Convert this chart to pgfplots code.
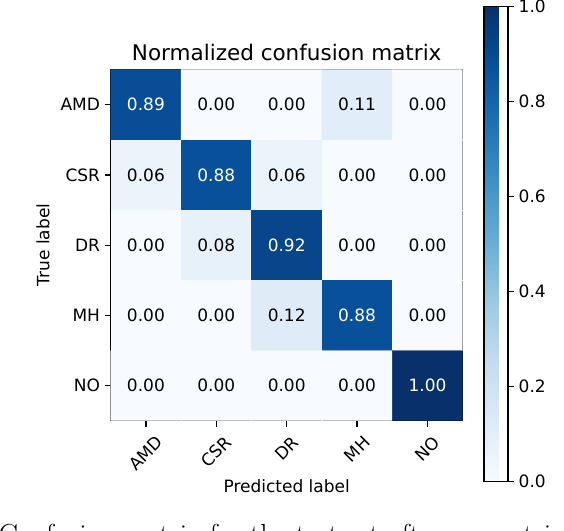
\documentclass[border=0pt]{standalone}
\usepackage{pgfplots}
\usepackage{pgfplotstable}
\pgfplotsset{compat=1.18}
\usepackage{fontspec}
\newfontfamily\dv{DejaVu Sans}

\pgfplotstableread{
x y z
0 4 0.89
1 4 0.00
2 4 0.00
3 4 0.11
4 4 0.00
0 3 0.06
1 3 0.88
2 3 0.06
3 3 0.00
4 3 0.00
0 2 0.00
1 2 0.08
2 2 0.92
3 2 0.00
4 2 0.00
0 1 0.00
1 1 0.00
2 1 0.12
3 1 0.88
4 1 0.00
0 0 0.00
1 0 0.00
2 0 0.00
3 0 0.00
4 0 1.00
}\cmdata

\pgfplotstableread{
x y label
0 4 0.89
1 3 0.88
2 2 0.92
3 1 0.88
4 0 1.00
}\whitelabels

\pgfplotstableread{
x y label
1 4 0.00
2 4 0.00
3 4 0.11
4 4 0.00
0 3 0.06
2 3 0.06
3 3 0.00
4 3 0.00
0 2 0.00
1 2 0.08
3 2 0.00
4 2 0.00
0 1 0.00
1 1 0.00
2 1 0.12
4 1 0.00
0 0 0.00
1 0 0.00
2 0 0.00
3 0 0.00
}\blacklabels

\newcommand{\tf}{\dv\fontsize{17}{20}\selectfont}

\begin{document}
\begin{tikzpicture}
\begin{axis}[
  at={(110.7pt,109.3pt)}, anchor=south west,
  scale only axis, width=352pt, height=351pt,
  xmin=-0.5, xmax=4.5, ymin=-0.5, ymax=4.5,
  xtick={0,1,2,3,4}, ytick={0,1,2,3,4},
  xticklabels={\rotatebox{45}{AMD},\rotatebox{45}{CSR},\rotatebox{45}{DR},\rotatebox{45}{MH},\rotatebox{45}{NO}},
  yticklabels={NO,MH,DR,CSR,AMD},
  tick align=outside, xtick pos=left, ytick pos=left,
  major tick length=6pt,
  tick style={black, line width=1.3pt},
  axis line style={black, line width=1.3pt},
  ticklabel style={font=\tf, inner sep=0pt},
  xticklabel style={anchor=north, yshift=-8pt},
  yticklabel style={anchor=east, xshift=-4.5pt},
  colormap={blues}{rgb255=(247,251,255) rgb255=(222,235,247) rgb255=(198,219,239) rgb255=(158,202,225) rgb255=(107,174,214) rgb255=(66,146,198) rgb255=(33,113,181) rgb255=(8,81,156) rgb255=(8,48,107)},
  point meta min=0, point meta max=1,
  colorbar,
  colorbar style={
    at={(parent axis.north east)}, anchor=north west,
    xshift=12.8pt, yshift=63pt,
    scale only axis, width=24pt, height=475pt,
    ytick={0,0.2,0.4,0.6,0.8,1},
    ytick pos=right, yticklabel pos=right,
    tick align=outside, major tick length=6pt,
    tick style={black, line width=1.3pt},
    axis line style={black, line width=1.3pt},
    yticklabel style={font=\tf, anchor=west, inner sep=0pt, xshift=4.5pt,
      /pgf/number format/.cd, fixed, fixed zerofill, precision=1, assume math mode=true},
  },
]
\addplot[matrix plot*, mesh/cols=5, point meta=explicit] table[x=x, y=y, meta=z] {\cmdata};
\addplot[only marks, mark=none, point meta=explicit symbolic,
  nodes near coords, nodes near coords align={center},
  every node near coord/.append style={font=\tf, text=white, inner sep=0pt}]
  table[x=x, y=y, meta=label] {\whitelabels};
\addplot[only marks, mark=none, point meta=explicit symbolic,
  nodes near coords, nodes near coords align={center},
  every node near coord/.append style={font=\tf, text=black, inner sep=0pt}]
  table[x=x, y=y, meta=label] {\blacklabels};
\end{axis}
\node[font=\dv\fontsize{21.5}{24}\selectfont, anchor=base, inner sep=0pt] at (286.7pt,469pt) {Normalized confusion matrix};
\node[font=\tf, rotate=90, anchor=center, inner sep=0pt] at (43pt,285pt) {True label};
\node[font=\tf, anchor=base, inner sep=0pt] at (286.7pt,38pt) {Predicted label};
\begin{scope}
\clip (0pt,0pt) rectangle (564pt,530pt);
\node[anchor=base west, inner sep=0pt, font=\fontsize{29}{32}\selectfont] at (-1.5pt,-14pt) {Confusion matrix for the test set after geometric};
\end{scope}
\pgfresetboundingbox
\useasboundingbox (0pt,0pt) rectangle (564pt,530pt);
\end{tikzpicture}
\end{document}
